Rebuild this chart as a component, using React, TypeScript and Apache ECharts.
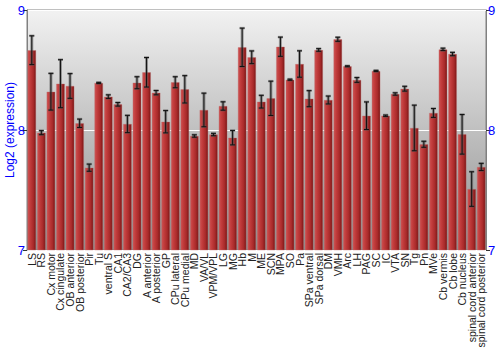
import React, { useEffect, useRef } from "react";
import * as echarts from "echarts";

const categories = [
  "LS", "RS", "Cx motor", "Cx cingulate", "OB anterior", "OB posterior", "Pir", "Tu",
  "ventral S", "CA1", "CA2/CA3", "DG", "A anterior", "A posterior", "GP", "CPu lateral",
  "CPu medial", "MD", "VA/VL", "VPM/VPL", "LG", "MG", "Hb", "M", "ME", "SCN", "MPA",
  "SO", "Pa", "SPa ventral", "SPa dorsal", "DM", "VMH", "Arc", "LH", "PAG", "SC", "IC",
  "VTA", "SN", "Tg", "Pn", "MVe", "Cb vermis", "Cb lobe", "Cb nucleus",
  "spinal cord anterior", "spinal cord posterior",
];

const values = [
  8.665, 7.978, 8.319, 8.386, 8.367, 8.056, 7.686, 8.392,
  8.278, 8.214, 8.05, 8.394, 8.481, 8.311, 8.069, 8.398,
  8.339, 7.95, 8.167, 7.962, 8.2, 7.936, 8.689, 8.606, 8.236, 8.264, 8.694,
  8.419, 8.55, 8.261, 8.667, 8.25, 8.756, 8.531, 8.417, 8.119, 8.492, 8.119,
  8.3, 8.344, 8.017, 7.881, 8.142, 8.672, 8.633, 7.964,
  7.508, 7.692,
];

const errors = [
  0.12, 0.017, 0.153, 0.2, 0.103, 0.035, 0.03, 0.005,
  0.015, 0.015, 0.072, 0.05, 0.123, 0.018, 0.093, 0.046,
  0.114, 0.01, 0.14, 0.01, 0.035, 0.06, 0.16, 0.053, 0.053, 0.143, 0.08,
  0.005, 0.11, 0.067, 0.011, 0.033, 0.017, 0.004, 0.02, 0.115, 0.005, 0.006,
  0.01, 0.02, 0.19, 0.025, 0.037, 0.01, 0.014, 0.165,
  0.144, 0.03,
];

const yTicks = { min: 7, max: 9, interval: 1 };
const yTitle = "Log2 (expression)";

export default function App() {
  const ref = useRef<HTMLDivElement>(null);

  useEffect(() => {
    if (!ref.current) return;
    const chart = echarts.init(ref.current, undefined, { renderer: "svg" });

    const errData = values.map((v, i) => [i, v - errors[i], v + errors[i]]);

    const yAxisCommon = {
      type: "value" as const,
      min: yTicks.min,
      max: yTicks.max,
      interval: yTicks.interval,
      axisLine: { show: true, lineStyle: { color: "#808080", width: 1 } },
      axisTick: { show: true, length: 4, lineStyle: { color: "#333" } },
      axisLabel: {
        color: "#0000ff",
        fontSize: 13,
        fontFamily: "Liberation Sans, Arial, sans-serif",
        margin: 2,
      },
    };

    chart.setOption({
      animation: false,
      graphic: [
        {
          type: "text",
          x: 10,
          y: 130,
          rotation: Math.PI / 2,
          style: {
            text: yTitle,
            fill: "#0000ff",
            fontSize: 12,
            fontFamily: "Liberation Sans, Arial, sans-serif",
            align: "center",
            verticalAlign: "middle",
          },
        },
      ],
      grid: {
        left: 27,
        right: 14,
        top: 10,
        bottom: 100,
        outerBoundsMode: "none",
        containLabel: false,
        show: true,
        borderColor: "#808080",
        borderWidth: 1,
        backgroundColor: new echarts.graphic.LinearGradient(0, 0, 0, 1, [
          { offset: 0, color: "#f2f2f2" },
          { offset: 1, color: "#8e8e8e" },
        ]),
      },
      xAxis: {
        type: "category",
        data: categories,
        axisLine: { show: false },
        axisTick: { show: false },
        axisLabel: {
          rotate: 90,
          interval: 0,
          color: "#222",
          fontSize: 10.5,
          fontFamily: "Liberation Sans, Arial, sans-serif",
          margin: 3,
        },
      },
      yAxis: [
        {
          ...yAxisCommon,
          position: "left",
          splitLine: { show: true, lineStyle: { color: "#ffffff", width: 1 } },
        },
        {
          ...yAxisCommon,
          position: "right",
          splitLine: { show: false },
        },
      ],
      series: [
        {
          type: "bar",
          data: values,
          barWidth: "90%",
          itemStyle: {
            color: new echarts.graphic.LinearGradient(0, 0, 1, 0, [
              { offset: 0, color: "#cc5252" },
              { offset: 0.3, color: "#c23c3c" },
              { offset: 0.7, color: "#a82a2a" },
              { offset: 1, color: "#7a1616" },
            ]),
            borderColor: "rgba(190,110,110,0.6)",
            borderWidth: 0.6,
          },
        },
        {
          type: "custom",
          data: errData,
          z: 10,
          renderItem: (params: any, api: any) => {
            const x = api.value(0);
            const lo = api.coord([x, api.value(1)]);
            const hi = api.coord([x, api.value(2)]);
            const cx = lo[0];
            const hw = 2.5;
            const shadow = { stroke: "rgba(90,90,90,0.55)", lineWidth: 3 };
            const dark = { stroke: "#111", lineWidth: 1 };
            return {
              type: "group",
              children: [
                { type: "line", shape: { x1: cx, y1: hi[1], x2: cx, y2: lo[1] }, style: shadow },
                { type: "line", shape: { x1: cx - hw, y1: hi[1], x2: cx + hw, y2: hi[1] }, style: { stroke: "rgba(90,90,90,0.55)", lineWidth: 2.5 } },
                { type: "line", shape: { x1: cx - hw, y1: lo[1], x2: cx + hw, y2: lo[1] }, style: { stroke: "rgba(90,90,90,0.55)", lineWidth: 2.5 } },
                { type: "line", shape: { x1: cx, y1: hi[1], x2: cx, y2: lo[1] }, style: dark },
                { type: "line", shape: { x1: cx - hw, y1: hi[1], x2: cx + hw, y2: hi[1] }, style: dark },
                { type: "line", shape: { x1: cx - hw, y1: lo[1], x2: cx + hw, y2: lo[1] }, style: dark },
              ],
            };
          },
        },
      ],
    });

    return () => chart.dispose();
  }, []);

  return (
    <div
      ref={ref}
      style={{ position: "absolute", left: 0, top: 0, width: 500, height: 350 }}
    />
  );
}
